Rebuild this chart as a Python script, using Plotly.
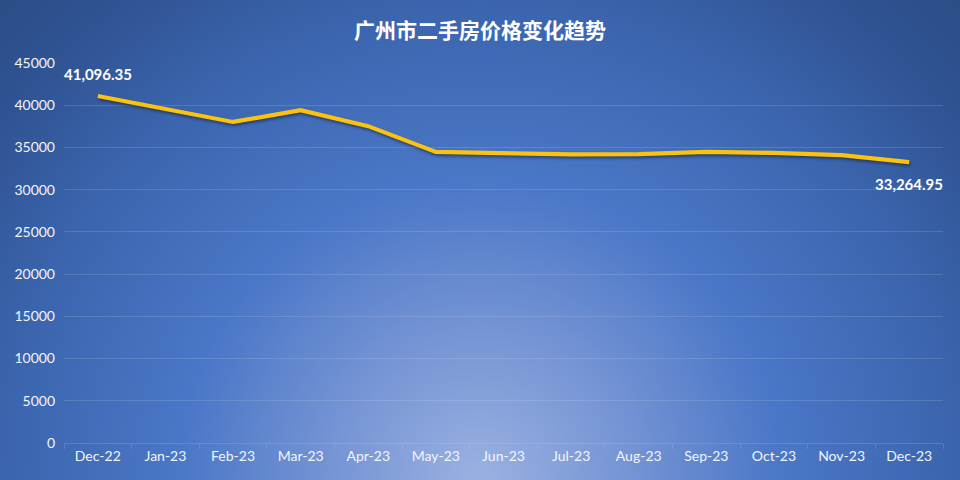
"""
广州市二手房价格变化趋势 - 折线图 (Plotly)
"""
import plotly.graph_objects as go

# Datos
months = ['Dec-22', 'Jan-23', 'Feb-23', 'Mar-23', 'Apr-23', 'May-23', 'Jun-23',
          'Jul-23', 'Aug-23', 'Sep-23', 'Oct-23', 'Nov-23', 'Dec-23']
prices = [41096.35, 39580, 38020, 39410, 37520, 34470, 34300,
          34180, 34200, 34470, 34360, 34090, 33264.95]
y_ticks = [0, 5000, 10000, 15000, 20000, 25000, 30000, 35000, 40000, 45000]

title_text = '广州市二手房价格变化趋势'
grid_col = 'rgba(220,228,245,0.16)'
label_font = dict(family='Lato, Noto Sans, sans-serif', size=14, color='#F2F5FB')

fig = go.Figure()

fig.add_trace(go.Scatter(
    x=months,
    y=prices,
    mode='lines',
    line=dict(color='#FBC20E', width=4.2),
    hoverinfo='x+y',
    showlegend=False
))

# Etiquetas primera y última
fig.add_annotation(x=months[0], y=prices[0], text=f'<b>{prices[0]:,.2f}</b>',
                   showarrow=False, yshift=22,
                   font=dict(family='Lato, Noto Sans, sans-serif', size=15, color='#FFFFFF'))
fig.add_annotation(x=months[-1], y=prices[-1], text=f'<b>{prices[-1]:,.2f}</b>',
                   showarrow=False, yshift=-22,
                   font=dict(family='Lato, Noto Sans, sans-serif', size=15, color='#FFFFFF'))

fig.update_layout(
    width=960,
    height=480,
    margin=dict(l=64, r=17, t=63, b=37),
    paper_bgcolor='rgba(0,0,0,0)',
    plot_bgcolor='rgba(0,0,0,0)',
    title=dict(
        text=f'<b>{title_text}</b>',
        x=0.5, xanchor='center',
        y=0.937, yanchor='middle',
        font=dict(family='Noto Sans CJK SC', size=21, color='#FFFFFF')
    ),
    xaxis=dict(
        type='category',
        range=[-0.5, len(months) - 0.5],
        showgrid=False,
        showline=True,
        linecolor=grid_col,
        linewidth=1,
        ticks='outside',
        tickson='boundaries',
        ticklen=5,
        tickcolor=grid_col,
        tickfont=label_font,
        fixedrange=True
    ),
    yaxis=dict(
        range=[0, 45000],
        tickvals=y_ticks,
        ticktext=[str(v) for v in y_ticks],
        showgrid=True,
        gridcolor=grid_col,
        gridwidth=1,
        zeroline=False,
        showline=False,
        tickfont=label_font,
        ticklabelstandoff=8,
        fixedrange=True
    ),
)

# Fondo degradado radial + sombra de la línea
post_js = """
document.body.style.margin = '0';
var gd = document.getElementById('{plot_id}');
gd.style.background = 'radial-gradient(circle at 50% 100%, #9ab2e2 0px, #7896d5 140px, #4a77c7 300px, #3b65ae 470px, #2f5392 600px, #2a4a82 720px)';
gd.querySelectorAll('.scatterlayer .js-line').forEach(function(p){
    p.style.filter = 'drop-shadow(1px 2px 1.5px rgba(20,30,60,0.6))';
});
"""

fig.write_html("out.html", post_script=post_js, config={'displayModeBar': False})
